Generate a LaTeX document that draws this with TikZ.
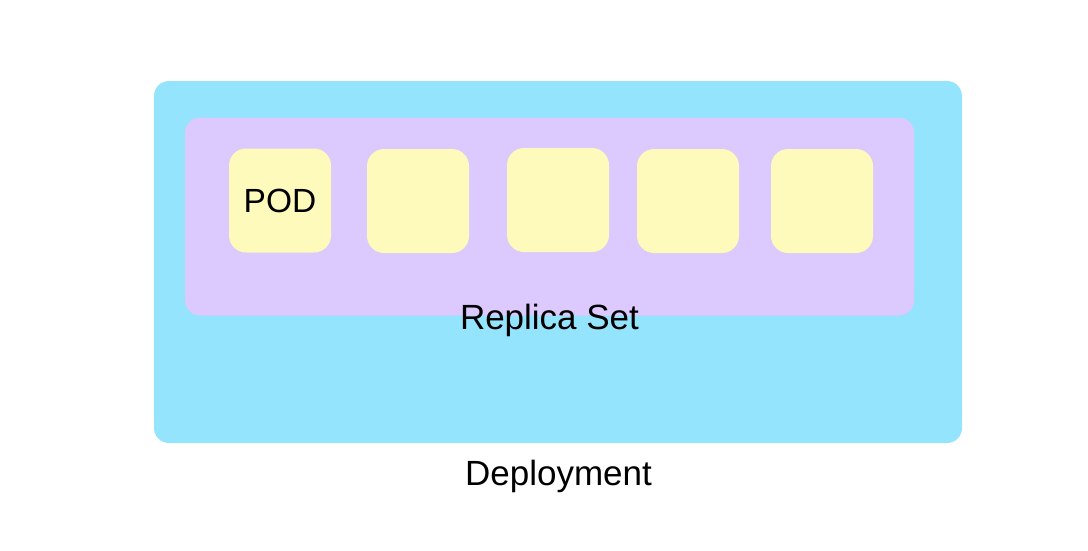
\documentclass[tikz,border=0pt]{standalone}
\usepackage{fontspec}
\setmainfont{Liberation Sans}
\usepackage{xcolor}
\usepackage{tikz}
\usetikzlibrary{positioning}
\definecolor{deployblue}{HTML}{93E4FC}
\definecolor{rslilac}{HTML}{DCC9FE}
\definecolor{podyellow}{HTML}{FEFABB}

\begin{document}
\begin{tikzpicture}[x=1pt,y=-1pt]
  \tikzstyle{box}=[rounded corners=15pt,inner sep=0pt,draw=none]
  \tikzstyle{pod}=[box,rounded corners=17pt,fill=podyellow,minimum width=102pt,minimum height=104pt,font=\fontsize{33.5}{40}\selectfont]
  \tikzstyle{lbl}=[anchor=base,inner sep=0pt,font=\fontsize{35}{40}\selectfont]
  \useasboundingbox (0,0) rectangle (1088,550);
  \node[box,fill=deployblue,minimum width=808pt,minimum height=362pt] (dep) at (558,262) {};
  \node[box,fill=rslilac,minimum width=729pt,minimum height=198pt] (rs) at (549.5,216.5) {};
  \node[pod] (p1) at (280,200.5) {POD};
  \node[pod] (p2) at (418,201) {};
  \node[pod] (p3) at (558,200) {};
  \node[pod] (p4) at (688,201) {};
  \node[pod] (p5) at (822,201) {};
  \node[lbl] (rslabel) at (549.5,329.5) {Replica Set};
  \node[lbl] (deplabel) at (558.5,485.5) {Deployment};
\end{tikzpicture}
\end{document}
